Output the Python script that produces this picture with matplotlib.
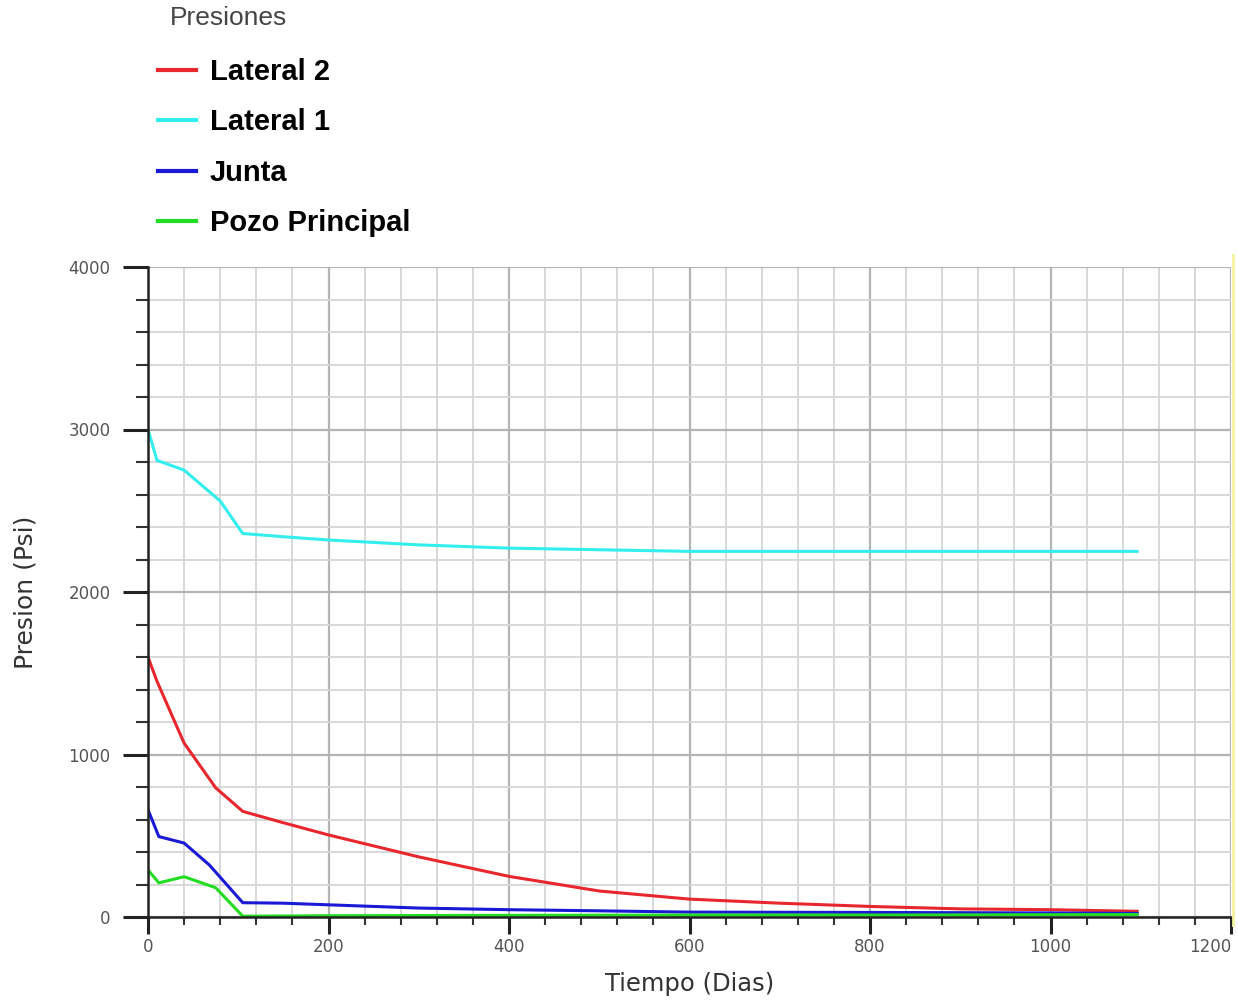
import numpy as np
import matplotlib.pyplot as plt
from matplotlib.ticker import MultipleLocator

# tiempo (dias) y presiones (psi)
t_lat1 = [0, 10, 40, 80, 105, 150, 200, 300, 400, 500, 600, 800, 1000, 1096]
p_lat1 = [3000, 2810, 2750, 2560, 2360, 2340, 2320, 2290, 2270, 2260, 2250, 2250, 2250, 2250]

t_lat2 = [0, 10, 40, 75, 105, 150, 200, 300, 400, 500, 600, 700, 800, 900, 1000, 1096]
p_lat2 = [1600, 1450, 1070, 795, 650, 580, 505, 370, 250, 160, 110, 85, 65, 50, 45, 35]

t_junta = [0, 12, 40, 68, 105, 150, 200, 300, 400, 500, 600, 800, 1000, 1096]
p_junta = [660, 495, 455, 320, 88, 85, 75, 55, 45, 38, 30, 28, 25, 22]

t_pozo = [0, 12, 40, 75, 105, 200, 400, 600, 800, 1096]
p_pozo = [290, 210, 248, 180, 5, 8, 10, 12, 12, 15]

x_ticks = [0, 200, 400, 600, 800, 1000, 1200]
y_ticks = [0, 1000, 2000, 3000, 4000]

fig = plt.figure(figsize=(12.38, 10.01), dpi=100)
ax = fig.add_axes([148/1238, 1-917/1001, (1231-148)/1238, (917-267)/1001])

l2, = ax.plot(t_lat2, p_lat2, color="#e8262e", lw=2.2, label="Lateral 2")
l1, = ax.plot(t_lat1, p_lat1, color="#33eeee", lw=2.2, label="Lateral 1")
lj, = ax.plot(t_junta, p_junta, color="#1a1ad6", lw=2.2, label="Junta")
lp, = ax.plot(t_pozo, p_pozo, color="#22dd22", lw=2.2, label="Pozo Principal")

ax.set_xlim(0, 1200)
ax.set_ylim(0, 4000)
ax.set_xticks(x_ticks)
ax.set_yticks(y_ticks)
ax.xaxis.set_minor_locator(MultipleLocator(40))
ax.yaxis.set_minor_locator(MultipleLocator(200))

ax.grid(which="major", color="#b4b4b4", lw=1.6)
ax.grid(which="minor", color="#d6d6d6", lw=1.3)
ax.set_axisbelow(True)

for s in ["top", "right"]:
    ax.spines[s].set_visible(False)
for s in ["left", "bottom"]:
    ax.spines[s].set_color("#222222")
    ax.spines[s].set_linewidth(1.8)

ax.tick_params(axis="y", which="major", length=18, width=2.2, color="#222222",
               labelsize=12, labelcolor="#555555", pad=9)
ax.tick_params(axis="y", which="minor", length=9, width=1.5, color="#333333")
ax.tick_params(axis="x", which="major", length=12, width=2.2, color="#222222",
               labelsize=12, labelcolor="#555555", pad=3)
ax.tick_params(axis="x", which="minor", length=6, width=1.5, color="#333333")

# la ultima etiqueta del eje x queda dentro de la figura
ax.xaxis.get_major_ticks()[-1].label1.set_horizontalalignment("right")

ax.set_ylabel("Presion (Psi)", fontsize=18, color="#333333", labelpad=22)
ax.set_xlabel("Tiempo (Dias)", fontsize=17.5, color="#333333", labelpad=12)

# linea amarilla del borde derecho
fig.add_artist(plt.Line2D([1233/1238, 1233/1238], [1-925/1001, 1-255/1001],
                          color="#f4f4a0", lw=2, transform=fig.transFigure))

fig.text(170/1238, 1-18/1001, "Presiones", fontsize=19, color="#444444",
         family="Liberation Sans", va="center", ha="left")

leg = fig.legend(handles=[l2, l1, lj, lp], loc="upper left",
                 bbox_to_anchor=(158/1238, 1-58/1001), frameon=False,
                 borderpad=0, borderaxespad=0,
                 prop={"family": "Liberation Sans", "weight": "bold", "size": 21},
                 handlelength=1.3, handletextpad=0.48, labelspacing=0.77)
for h in leg.legend_handles:
    h.set_linewidth(3)

fig.savefig("out.png", dpi=100)
